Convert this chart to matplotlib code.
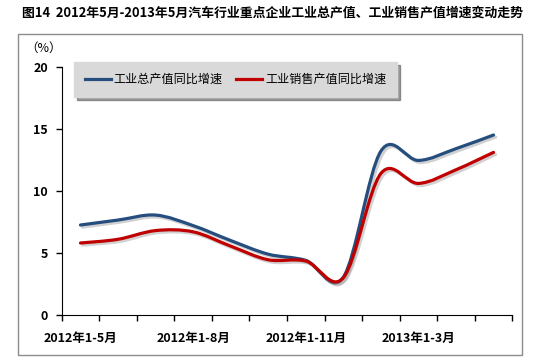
import matplotlib
matplotlib.use('Agg')
import matplotlib.pyplot as plt
import matplotlib.patheffects as pe
from matplotlib.path import Path
from matplotlib.patches import PathPatch, Rectangle
from matplotlib.lines import Line2D

plt.rcParams['font.family'] = ['Noto Sans CJK SC', 'DejaVu Sans']

# 数据：2012年1-5月 至 2013年1-5月（累计同比，%）
months = ['2012年1-5月', '2012年1-6月', '2012年1-7月', '2012年1-8月',
          '2012年1-9月', '2012年1-10月', '2012年1-11月', '2012年1-12月',
          '2013年1-2月', '2013年1-3月', '2013年1-4月', '2013年1-5月']
zongchanzhi = [7.25, 7.65, 8.05, 7.2, 6.0, 4.9, 4.4, 3.05, 13.2, 12.45, 13.4, 14.5]
xiaoshou = [5.8, 6.1, 6.8, 6.7, 5.55, 4.45, 4.35, 3.0, 11.4, 10.6, 11.7, 13.1]
label_idx = [0, 3, 6, 9]

blue = '#254E7E'
red = '#C00000'


def smooth_path(xs, ys):
    # Excel风格的平滑线：三次贝塞尔曲线
    n = len(xs)
    verts = [(xs[0], ys[0])]
    codes = [Path.MOVETO]
    for i in range(n - 1):
        x0, y0 = xs[max(i - 1, 0)], ys[max(i - 1, 0)]
        x1, y1 = xs[i], ys[i]
        x2, y2 = xs[i + 1], ys[i + 1]
        x3, y3 = xs[min(i + 2, n - 1)], ys[min(i + 2, n - 1)]
        verts += [(x1 + (x2 - x0) / 6, y1 + (y2 - y0) / 6),
                  (x2 - (x3 - x1) / 6, y2 - (y3 - y1) / 6),
                  (x2, y2)]
        codes += [Path.CURVE4] * 3
    return Path(verts, codes)


fig = plt.figure(figsize=(5.35, 3.62), dpi=100)
fig.patches.append(Rectangle((18 / 535, 1 - 355 / 362), 504 / 535, 321 / 362,
                             transform=fig.transFigure, fill=False,
                             edgecolor='#8C8C8C', linewidth=1))

ax = fig.add_axes([0.1153, 0.1298, 0.8423, 0.6859])

x = list(range(len(months)))
shadow = [pe.SimpleLineShadow(offset=(1.5, -1.5), shadow_color='#999999', alpha=0.45),
          pe.Normal()]
for ys, c in [(zongchanzhi, blue), (xiaoshou, red)]:
    patch = PathPatch(smooth_path(x, ys), fill=False, edgecolor=c,
                      linewidth=2.3, capstyle='round')
    patch.set_path_effects(shadow)
    ax.add_patch(patch)

ax.set_xlim(-0.5, len(months) - 0.5)
ax.set_ylim(0, 20)
ax.set_yticks([0, 5, 10, 15, 20])
ax.set_yticklabels(['0', '5', '10', '15', '20'], fontweight='bold', fontsize=9)

# 刻度线在类别分界处，标签在类别中心
ax.set_xticks([i - 0.5 for i in range(len(months) + 1)])
ax.set_xticklabels([])
ax.set_xticks(label_idx, minor=True)
ax.set_xticklabels([months[i] for i in label_idx], minor=True,
                   fontweight='bold', fontsize=9)
ax.tick_params(axis='x', which='minor', length=0, pad=12)
ax.tick_params(axis='both', which='major', direction='out', length=4, width=1)
ax.tick_params(axis='y', pad=6)

for s in ['top', 'right']:
    ax.spines[s].set_visible(False)
for s in ['left', 'bottom']:
    ax.spines[s].set_color('black')

handles = [Line2D([], [], color=blue, linewidth=2.3),
           Line2D([], [], color=red, linewidth=2.3)]
leg = fig.legend(handles, ['工业总产值同比增速', '工业销售产值同比增速'],
                 ncol=2, loc='upper left', bbox_to_anchor=(74 / 535, 1 - 62 / 362),
                 frameon=True, fancybox=False, shadow=True, fontsize=8.7,
                 handlelength=2.15, handletextpad=0.25, columnspacing=1.1,
                 borderpad=0.9, borderaxespad=0)
leg.get_frame().set_facecolor('#D9D9D9')
leg.get_frame().set_edgecolor('#D9D9D9')

fig.text(25 / 535, 1 - 48 / 362, '（%）', fontsize=9, va='center', ha='left')
fig.text(22 / 535, 1 - 13 / 362,
         '图14  2012年5月-2013年5月汽车行业重点企业工业总产值、工业销售产值增速变动走势',
         fontsize=9.3, fontweight='bold', va='center', ha='left')

fig.savefig('out.png', dpi=100)
